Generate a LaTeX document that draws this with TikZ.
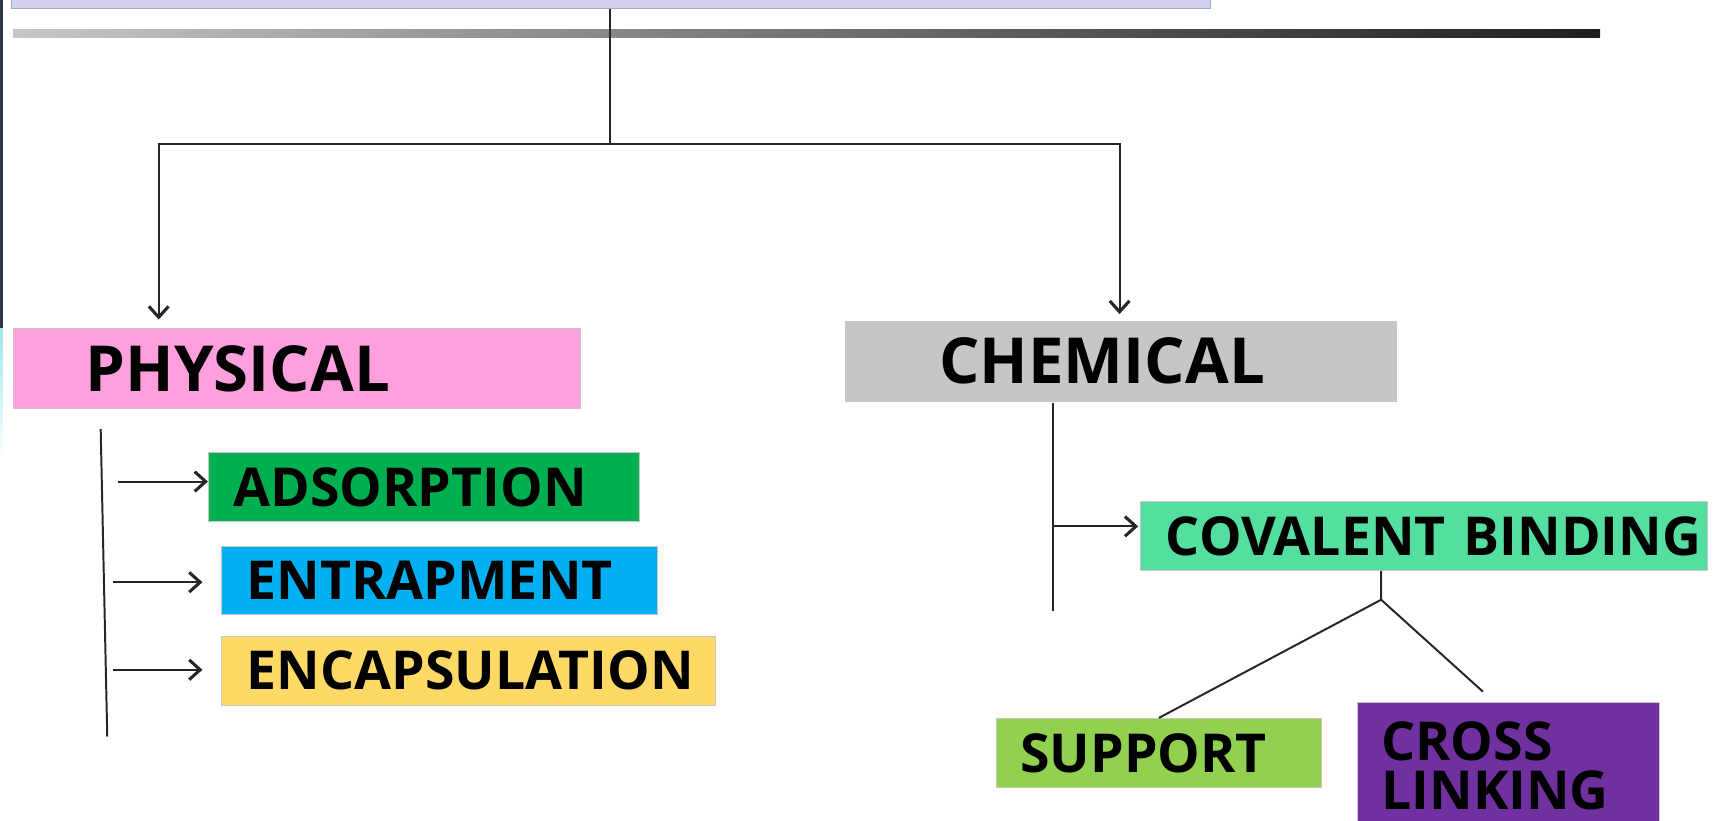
\documentclass[tikz,border=0pt]{standalone}
\usepackage{fontspec}
\setmainfont{Open Sans}
\usepackage{tikz}
\usetikzlibrary{
        arrows.meta,
        positioning
    }
\definecolor{titlecol}{RGB}{208,210,240}
\definecolor{physcol}{RGB}{255,160,222}
\definecolor{chemcol}{RGB}{198,198,198}
\definecolor{adscol}{RGB}{0,176,80}
\definecolor{entcol}{RGB}{0,176,240}
\definecolor{enccol}{RGB}{255,217,102}
\definecolor{covcol}{RGB}{84,222,160}
\definecolor{supcol}{RGB}{146,208,80}
\definecolor{crosscol}{RGB}{112,48,160}
\definecolor{navycol}{RGB}{48,54,80}
\tikzset{>={Straight Barb[length=10pt,width=18pt,line width=2.8pt]}}
\tikzset{box/.style={draw=black!22,line width=0.8pt,anchor=north west,inner ysep=0pt,align=left}}

\begin{document}
\begin{tikzpicture}[x=1pt,y=-1pt,
                    line/.style={draw=black!85,line width=1.8pt},
                    arr/.style={->,black!85,line width=1.8pt},
                    big/.style={font=\bfseries\fontsize{58}{64}\selectfont},
                    small/.style={font=\bfseries\fontsize{49}{45}\selectfont}]
    \useasboundingbox (0,0) rectangle (1568,749.3);
    % left edge and rule
    \fill[navycol] (0,0) rectangle (2.5,300);
    \shade[top color=navycol!30!cyan!40, bottom color=white] (0,300) rectangle (2.5,420);
    \shade[left color=black!22, right color=black!88] (12,27) rectangle (1462,34);
    % boxes
    \node[box,fill=titlecol,draw=titlecol!80!black,minimum width=1096pt,minimum height=13pt] (title) at (10,-6) {};
    \node[box,big,fill=physcol,minimum height=73pt,text width=386pt,inner xsep=66pt] (phys) at (12,300) {PHYSICAL};
    \node[box,big,fill=chemcol,minimum height=73pt,text width=332pt,inner xsep=86pt] (chem) at (772,293) {CHEMICAL};
    \node[box,small,fill=adscol,minimum height=63pt,text width=348pt,inner xsep=23pt] (ads) at (190,413) {ADSORPTION};
    \node[box,small,fill=entcol,minimum height=62pt,text width=352pt,inner xsep=23pt] (ent) at (202,499) {ENTRAPMENT};
    \node[box,small,fill=enccol,minimum height=63pt,text width=405pt,inner xsep=23pt] (enc) at (202,581) {ENCAPSULATION};
    \node[box,small,fill=covcol,minimum height=63pt,text width=472pt,inner xsep=23pt] (cov) at (1042,458) {\mbox{COVALENT BINDING}};
    \node[box,small,fill=supcol,minimum height=63pt,text width=253pt,inner xsep=22pt] (sup) at (910,656) {SUPPORT};
    \node[box,fill=crosscol,minimum width=276pt,minimum height=120pt] (cross) at (1240,641) {};
    \node[small,anchor=north west,align=left,inner sep=0pt] (crosstxt) at (1262,659) {CROSS\\LINKING};
    % connectors
    \coordinate (split) at (557,132);
    \coordinate (physin) at (145,292);
    \coordinate (chemin) at (1023,287);
    \draw[line] (title.south -| split) -- (split);
    \draw[arr] (split) -| (physin);
    \draw[arr] (split) -| (chemin);
    \coordinate (ptop) at (92,392);
    \coordinate (pbot) at (98,673);
    \coordinate (a1) at (108,440);
    \coordinate (a2) at (103,532);
    \coordinate (a3) at (103,612);
    \draw[line] (ptop) -- (pbot);
    \path[arr]
            (a1) edge (a1 -| ads.west)
            (a2) edge[shorten >=17pt] (a2 -| ent.west)
            (a3) edge[shorten >=17pt] (a3 -| enc.west)
            ;
    \coordinate (ctop) at (962,368);
    \coordinate (cbot) at (962,558);
    \coordinate (c1) at (962,481);
    \draw[line] (ctop) -- (cbot);
    \path[arr] (c1) edge[shorten >=2pt] (c1 -| cov.west);
    \coordinate (fork) at (1262,548);
    \coordinate (crossin) at (1355,632);
    \draw[line] (fork |- cov.south) -- (fork) -- (sup.north);
    \draw[line] (fork) -- (crossin);
\end{tikzpicture}
\end{document}
